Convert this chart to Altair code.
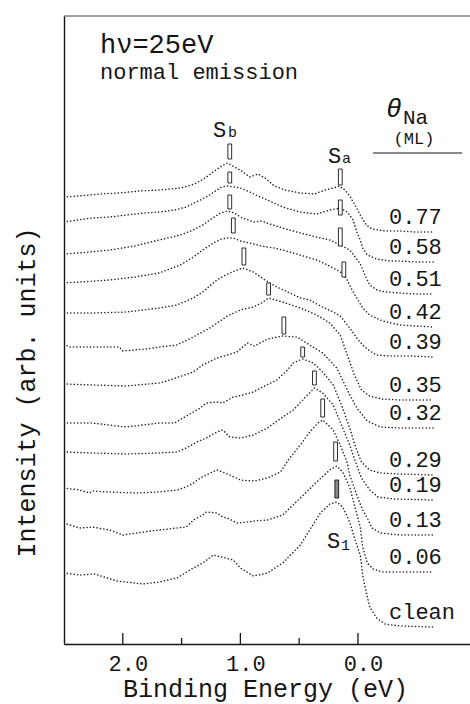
import altair as alt
import pandas as pd

FONT = "Liberation Mono"
INK = "#151515"

# ---------------- data ----------------
coverage = ["0.77", "0.58", "0.51", "0.42", "0.39", "0.35", "0.32",
            "0.29", "0.19", "0.13", "0.06", "clean"]

e_077 = [2.50, 2.37, 2.20, 2.03, 1.86, 1.69, 1.51, 1.39, 1.30, 1.22, 1.16, 1.11, 1.05, 0.99, 0.92, 0.85, 0.79,
         0.71, 0.62, 0.49, 0.37, 0.28, 0.21, 0.16, 0.11, 0.07, 0.03, -0.02, -0.07, -0.12, -0.23, -0.36, -0.49, -0.64]
i_077 = [447, 448, 450, 451, 453, 454, 456, 460, 466, 473, 478, 481, 477, 473, 467, 470, 466,
         458, 454, 451, 450, 454, 456, 458, 454, 448, 440, 429, 419, 415, 413, 413, 412, 412]

e_058 = [2.50, 2.39, 2.26, 2.11, 1.97, 1.81, 1.69, 1.56, 1.46, 1.34, 1.26, 1.20, 1.16, 1.11, 1.05, 1.00, 0.92, 0.85,
         0.77, 0.64, 0.49, 0.35, 0.24, 0.15, 0.09, 0.04, 0.01, -0.02, -0.04, -0.08, -0.16, -0.27, -0.36, -0.49, -0.64]
i_058 = [422, 424, 426, 427, 429, 431, 432, 434, 437, 444, 449, 454, 457, 458, 457, 456, 452, 448,
         444, 437, 432, 430, 434, 436, 432, 424, 412, 404, 396, 389, 385, 383, 383, 382, 382]

e_051 = [2.50, 2.37, 2.11, 1.90, 1.69, 1.51, 1.40, 1.32, 1.26, 1.17, 1.11, 1.05, 1.00, 0.89, 0.82, 0.75,
         0.64, 0.49, 0.35, 0.24, 0.15, 0.07, 0.03, -0.02, -0.06, -0.10, -0.16, -0.23, -0.36, -0.49, -0.64]
i_051 = [390, 391, 394, 398, 404, 409, 414, 419, 424, 431, 433, 431, 427, 422, 423, 420,
         416, 411, 407, 404, 399, 394, 388, 380, 369, 359, 354, 352, 351, 350, 350]

e_042 = [2.50, 2.37, 2.11, 1.90, 1.69, 1.51, 1.40, 1.32, 1.23, 1.16, 1.11, 1.06, 1.00, 0.92, 0.82,
         0.71, 0.64, 0.49, 0.35, 0.24, 0.15, 0.10, 0.05, 0.01, -0.04, -0.10, -0.21, -0.36, -0.49, -0.64]
i_042 = [361, 362, 364, 367, 371, 379, 387, 394, 401, 405, 406, 406, 403, 401, 398,
         396, 394, 389, 384, 378, 372, 366, 354, 346, 336, 329, 323, 319, 318, 317]

e_039 = [2.50, 2.26, 1.97, 1.69, 1.54, 1.40, 1.32, 1.20, 1.11, 1.05, 0.98, 0.89, 0.79, 0.69,
         0.58, 0.49, 0.41, 0.32, 0.21, 0.15, 0.07, 0.01, -0.04, -0.10, -0.16, -0.27, -0.44, -0.64]
i_039 = [331, 331, 332, 336, 339, 346, 352, 364, 370, 373, 376, 372, 364, 357,
         351, 346, 344, 338, 332, 328, 316, 306, 299, 293, 289, 288, 288, 287]

e_035 = [2.50, 2.45, 2.26, 2.03, 2.00, 1.80, 1.69, 1.54, 1.40, 1.26, 1.11, 1.00, 0.89, 0.82,
         0.76, 0.64, 0.49, 0.35, 0.24, 0.15, 0.09, 0.03, -0.03, -0.10, -0.21, -0.36, -0.64]
i_035 = [300, 297, 297, 297, 293, 295, 297, 299, 307, 316, 328, 334, 337, 341,
         346, 342, 336, 329, 321, 309, 289, 269, 254, 248, 245, 244, 244]

e_032 = [2.50, 2.26, 1.97, 1.69, 1.60, 1.40, 1.32, 1.20, 1.11, 1.03, 0.94, 0.88, 0.77, 0.64,
         0.52, 0.41, 0.30, 0.18, 0.09, 0.01, -0.08, -0.19, -0.36, -0.64]
i_032 = [260, 259, 258, 261, 264, 272, 279, 286, 289, 292, 301, 298, 305, 308,
         307, 299, 291, 276, 254, 236, 223, 217, 216, 216]

e_029 = [2.50, 2.26, 1.97, 1.69, 1.56, 1.40, 1.34, 1.29, 1.20, 1.15, 1.06, 0.98, 0.89, 0.81, 0.69,
         0.60, 0.55, 0.47, 0.38, 0.30, 0.21, 0.14, 0.07, 0.02, -0.03, -0.10, -0.19, -0.36, -0.64]
i_029 = [221, 221, 217, 221, 221, 232, 236, 241, 242, 241, 247, 249, 252, 257, 264,
         274, 281, 285, 281, 272, 259, 239, 216, 197, 182, 174, 171, 170, 169]

e_019 = [2.50, 2.26, 1.97, 1.69, 1.54, 1.46, 1.37, 1.29, 1.20, 1.15, 1.09, 1.00, 0.89, 0.77,
         0.64, 0.55, 0.47, 0.37, 0.30, 0.21, 0.14, 0.07, 0.02, -0.03, -0.10, -0.17, -0.31, -0.64]
i_019 = [192, 191, 190, 191, 192, 196, 202, 206, 212, 214, 207, 206, 209, 216,
         227, 234, 244, 256, 251, 239, 219, 199, 182, 166, 154, 147, 145, 144]

e_013 = [2.50, 2.37, 2.28, 2.26, 2.11, 1.88, 1.69, 1.54, 1.46, 1.40, 1.34, 1.29, 1.20, 1.15, 1.09, 1.00,
         0.88, 0.77, 0.66, 0.58, 0.49, 0.41, 0.34, 0.30, 0.21, 0.15, 0.09, 0.07, 0.01, -0.04, -0.08,
         -0.12, -0.19, -0.36, -0.64]
i_013 = [156, 154, 151, 153, 152, 151, 152, 154, 157, 161, 166, 169, 174, 172, 169, 164,
         163, 166, 172, 186, 199, 212, 221, 224, 214, 199, 181, 169, 149, 134, 126,
         116, 111, 109, 109]

e_006 = [2.50, 2.37, 2.26, 2.11, 2.00, 1.83, 1.69, 1.54, 1.46, 1.40, 1.32, 1.29, 1.20, 1.15, 1.11, 1.03, 0.94,
         0.88, 0.77, 0.64, 0.49, 0.35, 0.24, 0.18, 0.13, 0.07, 0.03, -0.02, -0.04, -0.08, -0.13, -0.21, -0.64]
i_006 = [121, 116, 117, 114, 109, 112, 114, 116, 117, 124, 129, 132, 131, 127, 126, 121, 122,
         123, 124, 129, 146, 162, 174, 178, 172, 157, 139, 117, 97, 81, 75, 72, 72]

e_clean = [2.50, 2.37, 2.24, 2.05, 1.83, 1.69, 1.54, 1.40, 1.32, 1.23, 1.16, 1.06, 1.00, 0.89, 0.77, 0.64,
           0.49, 0.41, 0.32, 0.24, 0.18, 0.13, 0.07, 0.03, -0.02, -0.04, -0.07, -0.10, -0.16, -0.23, -0.36, -0.64]
i_clean = [71, 69, 70, 63, 60, 62, 66, 76, 81, 89, 87, 84, 76, 68, 71, 81,
           99, 114, 131, 140, 142, 137, 122, 106, 89, 69, 52, 37, 26, 20, 18, 17]

# peak markers (energy, lower and upper intensity of the little bar)
sb_e = [1.09, 1.09, 1.09, 1.06, 0.97, 0.76, 0.63, 0.47, 0.37, 0.30, 0.19]
sb_lo = [485, 461, 435, 411, 379, 349, 310, 287, 259, 227, 183]
sb_hi = [500, 472, 449, 426, 396, 361, 327, 297, 273, 245, 202]
sa_e = [0.15, 0.15, 0.15, 0.12]
sa_lo = [459, 429, 398, 367]
sa_hi = [475, 444, 416, 382]
s1_e = [0.18]
s1_lo = [146]
s1_hi = [164]

major_ticks = [2.0, 1.0, 0.0]
minor_ticks = [1.5, 0.5]

# ---------------- tables ----------------
curves = [(coverage[0], e_077, i_077), (coverage[1], e_058, i_058), (coverage[2], e_051, i_051),
          (coverage[3], e_042, i_042), (coverage[4], e_039, i_039), (coverage[5], e_035, i_035),
          (coverage[6], e_032, i_032), (coverage[7], e_029, i_029), (coverage[8], e_019, i_019),
          (coverage[9], e_013, i_013), (coverage[10], e_006, i_006), (coverage[11], e_clean, i_clean)]
rows = []
ends = []
for name, es, ys in curves:
    for e, v in zip(es, ys):
        rows.append({"curve": name, "E": e, "I": v})
    ends.append({"curve": name, "Iend": ys[-1]})
df = pd.DataFrame(rows)
df_end = pd.DataFrame(ends)

mk = pd.DataFrame(
    [{"E": e, "lo": lo, "hi": hi, "kind": "open"} for e, lo, hi in zip(sb_e + sa_e, sb_lo + sa_lo, sb_hi + sa_hi)]
    + [{"E": e, "lo": lo, "hi": hi, "kind": "filled"} for e, lo, hi in zip(s1_e, s1_lo, s1_hi)]
)
ticks_df = pd.DataFrame([{"E": t, "len": "major"} for t in major_ticks] +
                        [{"E": t, "len": "minor"} for t in minor_ticks])

# ---------------- geometry (plot area 406 x 628 at 64,16) ----------------
W, H = 406, 628
L, T = 64, 16

xscale = alt.Scale(domain=[-0.953, 2.5], reverse=True, nice=False, zero=False)
yscale = alt.Scale(domain=[0, 628], nice=False, zero=False)

x_axis = alt.Axis(values=major_ticks, format=".1f", labelFont=FONT, labelFontSize=22, labelColor=INK,
                  labelPadding=26, labelBaseline="alphabetic", labelOffset=5, ticks=False, tickSize=0,
                  domain=True, domainColor=INK, domainWidth=1.4, grid=False, labelFlush=False,
                  labelOverlap=False, title="Binding Energy (eV)", titleFont=FONT, titleFontSize=25,
                  titleFontWeight="normal", titleColor=INK, titleX=201, titleY=52, titleAlign="center",
                  titleBaseline="alphabetic")
y_axis = alt.Axis(labels=False, ticks=False, tickSize=0, grid=False, domain=True, domainColor=INK,
                  domainWidth=1.4, title="Intensity (arb. units)", titleFont=FONT, titleFontSize=25,
                  titleFontWeight="normal", titleColor=INK, titleX=-30, titleY=376, titleAngle=270,
                  titleAlign="center", titleBaseline="alphabetic")

X = alt.X("E:Q", scale=xscale, axis=x_axis)
Y = alt.Y("I:Q", scale=yscale, axis=y_axis)

lines = alt.Chart(df).mark_line(
    strokeDash=[0.1, 3.3], strokeCap="round", strokeWidth=1.5, color="#1e1e1e", clip=True
).encode(x=X, y=Y, detail="curve:N")

markers = alt.Chart(mk).transform_calculate(
    e1="datum.E - 0.016", e2="datum.E + 0.016"
).mark_rect(stroke=INK, strokeWidth=0.9).encode(
    x=alt.X("e1:Q", scale=xscale), x2="e2:Q",
    y=alt.Y("lo:Q", scale=yscale), y2="hi:Q",
    fill=alt.Fill("kind:N", scale=alt.Scale(domain=["open", "filled"], range=["white", "#8a8a8a"]),
                  legend=None),
)

tick_rules = alt.Chart(ticks_df).transform_calculate(
    top="datum.len == 'major' ? 11 : 6", base="0"
).mark_rule(color=INK, strokeWidth=1.3).encode(
    x=alt.X("E:Q", scale=xscale), y=alt.Y("top:Q", scale=yscale), y2=alt.Y2("base:Q")
)

top_line = alt.Chart(alt.Data(values=[{}])).mark_rule(color="#444", strokeWidth=1.1).encode(
    x=alt.value(0), x2=alt.value(W), y=alt.value(0))

end_labels = alt.Chart(df_end).transform_calculate(ly="datum.Iend + 15").mark_text(
    font=FONT, fontSize=22, align="left", baseline="middle", color=INK
).encode(x=alt.value(389 - L), y=alt.Y("ly:Q", scale=yscale), text="curve:N")


def note(text, x, y, size, align="left", baseline="alphabetic", style="normal"):
    return alt.Chart(alt.Data(values=[{}])).mark_text(
        text=text, font=FONT, fontSize=size, align=align, baseline=baseline, fontStyle=style, color=INK
    ).encode(x=alt.value(x - L), y=alt.value(y - T))


notes = [
    note("h\u03bd=25eV", 100, 53, 27),
    note("normal emission", 100, 79, 22),
    note("\u03b8", 386, 117, 26, style="italic"),
    note("Na", 403, 124, 21),
    note("(ML)", 414, 144, 17, align="center"),
    note("S", 213, 137, 22), note("b", 228, 137, 15),
    note("S", 328, 163, 22), note("a", 342, 163, 15),
    note("S", 327, 548, 22), note("1", 341, 550, 15),
]

header_line = alt.Chart(alt.Data(values=[{}])).mark_rule(color=INK, strokeWidth=1.1).encode(
    x=alt.value(373 - L), x2=alt.value(462 - L), y=alt.value(153 - T))

chart = alt.layer(lines, markers, tick_rules, top_line, header_line, end_labels, *notes).properties(
    width=W, height=H,
    autosize=alt.AutoSizeParams(type="none"),
    padding={"left": L, "top": T, "right": 0, "bottom": 704 - T - H},
    background="white",
).configure_view(stroke=None)

chart.save("out.html", embed_options={"renderer": "svg", "actions": False})
